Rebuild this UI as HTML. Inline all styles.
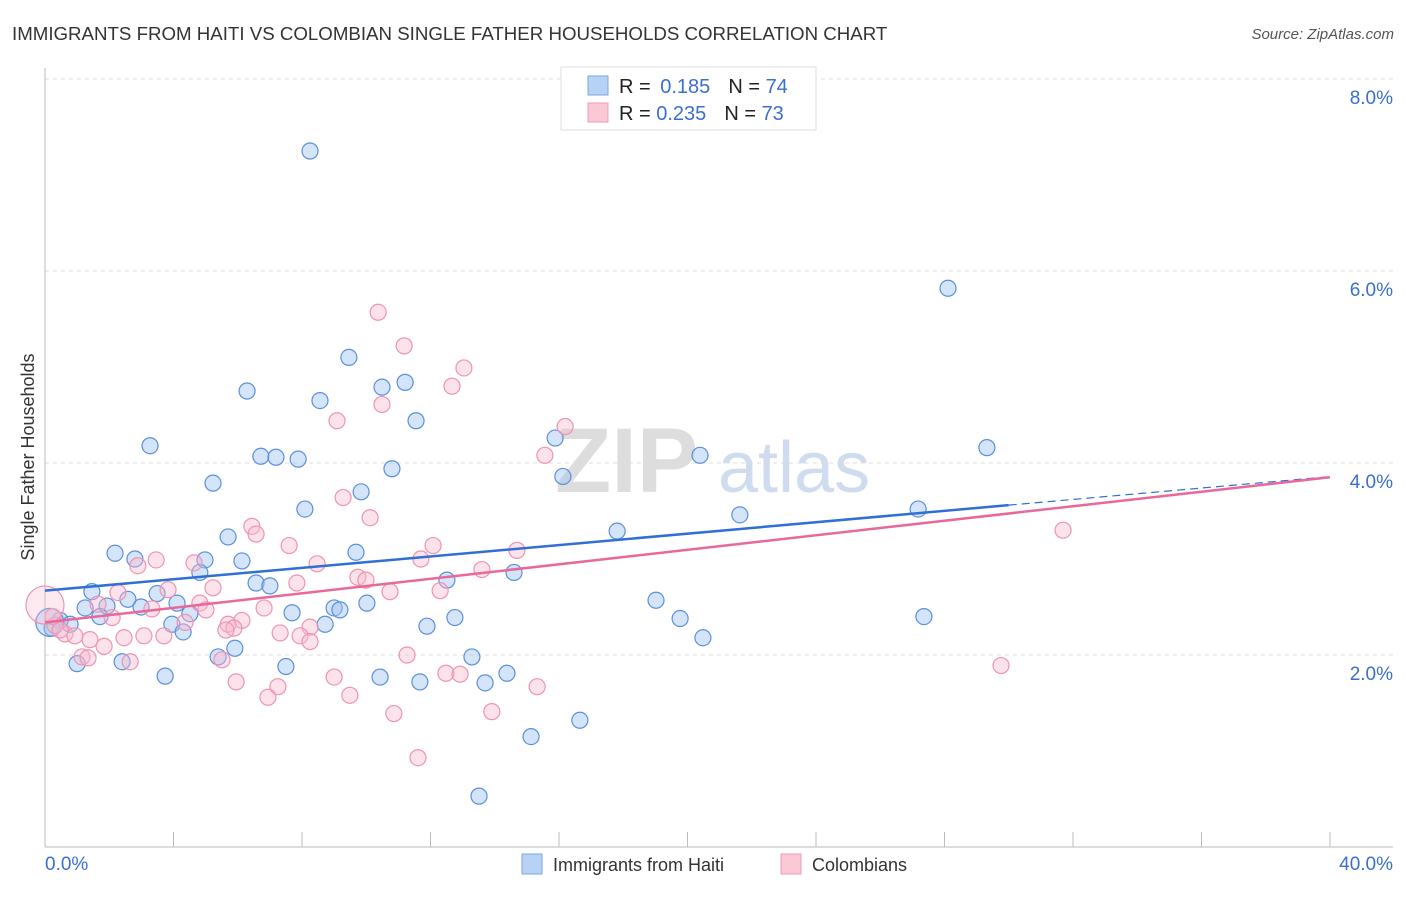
<!DOCTYPE html>
<html><head><meta charset="utf-8"><style>
body{margin:0;background:#fff;font-family:"Liberation Sans",sans-serif;}
svg text{font-family:"Liberation Sans",sans-serif;}
</style></head><body>
<svg id="chart" width="1406" height="892" xmlns="http://www.w3.org/2000/svg">
<text x="12" y="40" font-size="18.7" fill="#333">IMMIGRANTS FROM HAITI VS COLOMBIAN SINGLE FATHER HOUSEHOLDS CORRELATION CHART</text>
<text x="1394" y="39" font-size="15" fill="#555" text-anchor="end" font-style="italic">Source: ZipAtlas.com</text>
<text transform="translate(34,457) rotate(-90)" font-size="18" fill="#333" text-anchor="middle">Single Father Households</text>
<g><text x="555" y="492" font-size="92" fill="#ddd" font-family="Liberation Serif" font-weight="bold">ZIP</text><text x="718" y="492" font-size="72" fill="#cfdcef">atlas</text></g>
<g id="grid"></g><g id="axes"></g><g id="pts"></g><g id="trends"></g>
<g>
<rect x="561" y="67" width="255" height="63" fill="#fff" stroke="#ddd"/>
<rect x="588" y="76" width="20" height="19" fill="#b8d2f5" stroke="#7aa6e6"/>
<rect x="588" y="103" width="20" height="19" fill="#fbc9d6" stroke="#f09ab3"/>
<text x="619" y="93" font-size="20" fill="#222">R = <tspan fill="#3a6fd0" dx="4">0.185</tspan><tspan dx="18" fill="#222">N = </tspan><tspan fill="#3a6fd0">74</tspan></text>
<text x="619" y="120" font-size="20" fill="#222">R = <tspan fill="#3a6fd0">0.235</tspan><tspan dx="18" fill="#222">N = </tspan><tspan fill="#3a6fd0">73</tspan></text>
</g>
<g>
<rect x="522" y="854" width="20" height="20" fill="#b8d2f5" stroke="#7aa6e6"/>
<text x="553" y="871" font-size="18" fill="#333">Immigrants from Haiti</text>
<rect x="781" y="854" width="20" height="20" fill="#fbc9d6" stroke="#f09ab3"/>
<text x="812" y="871" font-size="18" fill="#333">Colombians</text>
</g>
</svg>
<script>
const blueX=[8.25,28.11,9.46,11.21,10.49,6.29,8.56,11.55,3.27,15.88,6.72,7.19,7.88,20.39,29.32,10.80,16.12,5.23,9.84,8.09,21.63,27.18,5.70,17.81,2.18,2.80,4.98,6.13,9.68,4.82,14.60,12.51,6.57,7.00,1.46,2.58,3.49,19.02,1.25,1.93,2.99,4.11,7.69,9.00,9.18,10.02,1.71,4.51,0.47,0.78,0.22,3.95,4.30,8.72,12.76,11.89,19.77,27.36,20.48,5.91,5.39,13.29,1.00,2.40,7.50,3.74,10.43,11.67,13.70,14.38,16.65,15.13,13.51,0.15];
const blueY=[7.25,5.82,5.10,4.84,4.79,4.75,4.65,4.44,4.18,4.26,4.07,4.06,4.04,4.08,4.16,3.94,3.86,3.79,3.70,3.52,3.46,3.52,3.23,3.29,3.06,3.00,2.99,2.98,3.07,2.86,2.86,2.78,2.75,2.72,2.66,2.58,2.64,2.57,2.49,2.51,2.50,2.54,2.44,2.49,2.47,2.54,2.40,2.43,2.36,2.32,2.28,2.32,2.24,2.32,2.39,2.30,2.38,2.40,2.18,2.07,1.98,1.98,1.91,1.93,1.88,1.78,1.77,1.72,1.71,1.81,1.32,1.15,0.53,2.34];
const pinkX=[10.37,11.18,13.04,12.67,10.49,9.09,16.19,15.56,6.44,10.12,9.28,31.69,6.57,12.08,7.60,14.69,11.70,8.47,3.46,2.89,4.64,9.74,9.99,7.84,13.60,3.83,5.23,10.74,12.30,2.27,1.65,4.82,3.33,6.82,5.01,2.09,6.13,5.70,4.36,5.88,5.63,8.25,7.32,7.94,3.08,3.70,2.46,1.40,0.62,0.93,0.31,8.25,1.84,11.27,5.51,1.15,2.65,1.34,29.76,12.48,12.92,9.00,5.95,7.25,15.32,6.94,9.49,10.86,13.91,11.61,0.25,0.47,0.0];
const pinkY=[5.57,5.22,4.99,4.80,4.61,4.44,4.38,4.08,3.34,3.43,3.64,3.30,3.26,3.14,3.14,3.09,3.00,2.95,2.99,2.93,2.96,2.81,2.78,2.75,2.89,2.68,2.70,2.66,2.67,2.65,2.53,2.54,2.48,2.49,2.47,2.39,2.36,2.32,2.34,2.28,2.26,2.29,2.23,2.20,2.20,2.20,2.18,2.16,2.22,2.20,2.31,2.14,2.09,2.00,1.95,1.98,1.93,1.97,1.89,1.81,1.80,1.77,1.72,1.67,1.67,1.56,1.58,1.39,1.41,0.93,2.40,2.26,2.52];
const yTicks=[2,4,6,8];
const yTickLabels=["2.0%","4.0%","6.0%","8.0%"];
const xTicks=[0,4,8,12,16,20,24,28,32,36,40];
const xTickLabels=["0.0%","40.0%"];
const blueTrend=[2.67,0.0297]; // intercept, slope
const pinkTrend=[2.34,0.0378];
const NS="http://www.w3.org/2000/svg";
const X=v=>45+v*32.125, Y=v=>847-v*96;
function mk(tag,attrs,parent){const e=document.createElementNS(NS,tag);for(const k in attrs)e.setAttribute(k,attrs[k]);document.getElementById(parent).appendChild(e);return e;}
yTicks.forEach((t,i)=>{
  const l=mk('line',{x1:45,x2:1393,y1:Y(t),y2:Y(t),stroke:'#ddd','stroke-dasharray':'4,4'},'grid');
  
  
  const tx=mk('text',{x:1393,y:Y(t)+25,'font-size':19,fill:'#3a6fd0','text-anchor':'end'},'grid');
  tx.textContent=yTickLabels[i];
  
  
});
const ax=mk('line',{x1:45,x2:45,y1:68,y2:847,stroke:'#bbb'},'axes');


const bx=mk('line',{x1:45,x2:1393,y1:847,y2:847,stroke:'#bbb'},'axes');


xTicks.forEach(t=>{
  const l=mk('line',{x1:X(t),x2:X(t),y1:832,y2:847,stroke:'#bbb'},'axes');
  
  
});
const xl0=mk('text',{x:45,y:870,'font-size':19,fill:'#3a6fd0'},'axes');xl0.textContent=xTickLabels[0];


const xl1=mk('text',{x:1393,y:870,'font-size':19,fill:'#3a6fd0','text-anchor':'end'},'axes');xl1.textContent=xTickLabels[1];


blueX.forEach((x,i)=>{
  const c=mk('circle',{cx:X(x),cy:Y(blueY[i]),r:i===blueX.length-1?14:8,fill:'rgba(160,196,242,0.45)',stroke:'#5b8fdd','stroke-width':1.2},'pts');
  
  
});
pinkX.forEach((x,i)=>{
  const c=mk('circle',{cx:X(x),cy:Y(pinkY[i]),r:i===pinkX.length-1?19:8,fill:i===pinkX.length-1?'rgba(248,184,204,0.3)':'rgba(248,184,204,0.4)',stroke:'#ef93b0','stroke-width':1.2},'pts');
  
  
});
const b1=mk('line',{x1:X(0),y1:Y(blueTrend[0]),x2:X(30),y2:Y(blueTrend[0]+30*blueTrend[1]),stroke:'#2f6fd6','stroke-width':2.5},'trends');


const b2=mk('line',{x1:X(30),y1:Y(blueTrend[0]+30*blueTrend[1]),x2:X(40),y2:Y(blueTrend[0]+40*blueTrend[1]),stroke:'#2f6fd6','stroke-width':1.2,'stroke-dasharray':'8,5'},'trends');


const p1=mk('line',{x1:X(0),y1:Y(pinkTrend[0]),x2:X(40),y2:Y(pinkTrend[0]+40*pinkTrend[1]),stroke:'#e8689a','stroke-width':2.5},'trends');


</script>
</body></html>
